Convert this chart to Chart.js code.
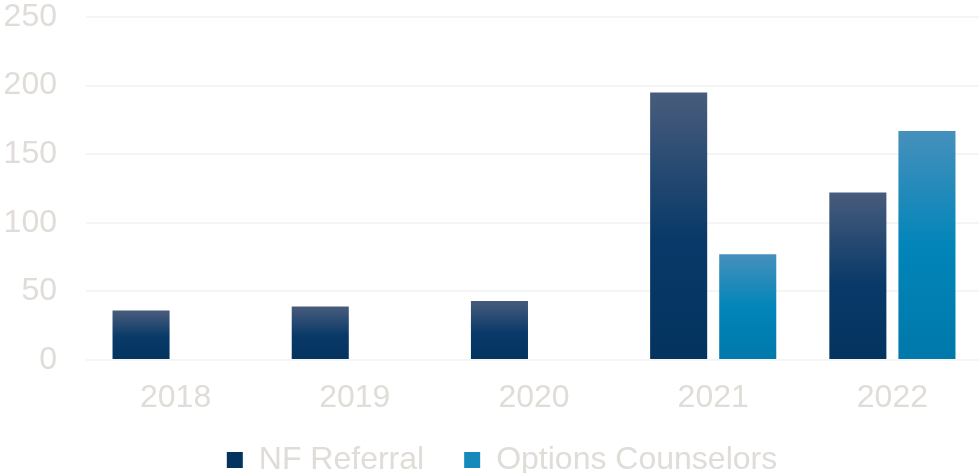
<!DOCTYPE html>
<html>
<head>
<meta charset="utf-8">
<script src="https://cdn.jsdelivr.net/npm/chart.js@4"></script>
<style>
html,body{margin:0;padding:0;background:#fff;overflow:hidden;}
#wrap{width:982px;height:473px;position:relative;}
</style>
</head>
<body>
<div id="wrap"><canvas id="c"></canvas></div>
<script>
const categories = ['2018', '2019', '2020', '2021', '2022'];
const nfReferral = [36, 39, 43, 195, 122];
const optionsCounselors = [null, null, null, 77, 167];
const yTicks = [0, 50, 100, 150, 200, 250];

const textColor = '#e0ddd8';
const fontFamily = '"Liberation Sans", Arial, sans-serif';
const fontSize = 32;

function barGradient(stops, solid) {
  return function (context) {
    if (context.type !== 'data') return solid;
    const chart = context.chart;
    const yScale = chart.scales.y;
    if (!yScale || context.raw == null) return solid;
    const top = yScale.getPixelForValue(context.raw);
    const bottom = yScale.getPixelForValue(0);
    if (!isFinite(top) || !isFinite(bottom) || top === bottom) return solid;
    const g = chart.ctx.createLinearGradient(0, top, 0, bottom);
    stops.forEach(s => g.addColorStop(s[0], s[1]));
    return g;
  };
}

const nfStops = [[0, '#485c7c'], [0.55, '#083968'], [1, '#04335f']];
const ocStops = [[0, '#4690bc'], [0.5, '#0285b9'], [1, '#0078ab']];

const legendPlacePlugin = {
  id: 'legendPlace',
  beforeInit(chart) {
    const legend = chart.legend;
    if (!legend) return;
    const origFit = legend.fit;
    legend.fit = function () {
      origFit.call(this);
      this.height = 473 - 360 - 58;
    };
  },
  beforeDraw(chart) {
    const legend = chart.legend;
    if (!legend || legend._placed) return;
    legend.top = 404;
    legend.bottom = 473;
    legend.left += 11;
    legend.right += 11;
    legend._placed = true;
  },
  afterUpdate(chart) {
    if (chart.legend) chart.legend._placed = false;
  }
};

new Chart(document.getElementById('c'), {
  type: 'bar',
  plugins: [legendPlacePlugin],
  data: {
    labels: categories,
    datasets: [
      {
        label: 'NF Referral',
        data: nfReferral,
        backgroundColor: barGradient(nfStops, '#0d3a66'),
        borderWidth: 0,
        categoryPercentage: 0.771,
        barPercentage: 0.826
      },
      {
        label: 'Options Counselors',
        data: optionsCounselors,
        backgroundColor: barGradient(ocStops, '#1589bb'),
        borderWidth: 0,
        categoryPercentage: 0.771,
        barPercentage: 0.826
      }
    ]
  },
  options: {
    responsive: true,
    maintainAspectRatio: false,
    animation: false,
    layout: { padding: { top: 17, right: 0, bottom: 0, left: 0 } },
    plugins: {
      tooltip: { enabled: false },
      legend: {
        position: 'bottom',
        labels: {
          color: textColor,
          font: { family: fontFamily, size: fontSize },
          boxWidth: 16,
          boxHeight: 16,
          padding: 40
        }
      }
    },
    scales: {
      x: {
        grid: { display: false, drawTicks: false },
        border: { display: false },
        afterFit: (scale) => { scale.height = 58; },
        ticks: {
          color: textColor,
          font: { family: fontFamily, size: fontSize },
          padding: 19
        }
      },
      y: {
        min: 0,
        max: 250,
        afterBuildTicks: (scale) => { scale.ticks = yTicks.map(v => ({ value: v })); },
        afterFit: (scale) => { scale.width = 86; scale.paddingTop = 0; scale.paddingBottom = 0; },
        grid: { color: '#f5f5f5', lineWidth: 2, drawTicks: false },
        border: { display: false },
        ticks: {
          color: textColor,
          font: { family: fontFamily, size: fontSize },
          padding: 29
        }
      }
    }
  }
});
</script>
</body>
</html>
